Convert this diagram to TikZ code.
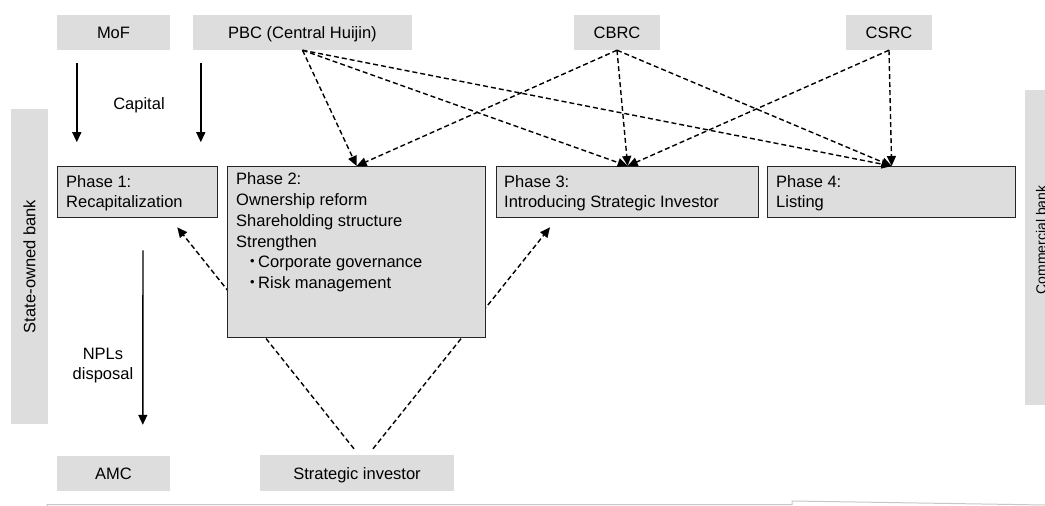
\documentclass[tikz,border=0pt]{standalone}
\usepackage{fontspec}
\setmainfont{Liberation Sans}
\newfontfamily\cjk{Noto Sans CJK JP}
\usetikzlibrary{arrows.meta,calc}
\pgfdeclarelayer{bg}
\pgfsetlayers{bg,main}
\definecolor{boxgray}{RGB}{221,221,221}
\begin{document}
\begin{tikzpicture}[x=1pt,y=-1pt,
  lbl/.style={font=\fontsize{16.5}{20.5}\selectfont, inner sep=0, text height=12pt, text depth=0pt},
  topbox/.style={fill=boxgray, draw=none, minimum height=35, inner sep=0, font=\fontsize{16.5}{20}\selectfont, text height=12pt, text depth=0pt},
  phase/.style={fill=boxgray, draw=black!85, line width=1.3pt, inner sep=0, anchor=north west},
  ptext/.style={font=\fontsize{16.5}{20.3}\selectfont, align=left, inner sep=0, anchor=north west},
  bar/.style={fill=boxgray, draw=none, inner sep=0, rotate=90, minimum width=315, minimum height=37},
  dasharrow/.style={dash pattern=on 5pt off 3pt, line width=1.4pt, -{Triangle[length=10pt,width=9pt]}},
  solidarrow/.style={line width=1.4pt, -{Triangle[length=10pt,width=9pt]}}
]
\clip (0,0) rectangle (1045,506);
\useasboundingbox (0,0) rectangle (1045,506);

% top boxes
\node[topbox, minimum width=113] (mof) at (113.5,32.5) {MoF};
\node[topbox, minimum width=219] (pbc) at (302.5,32.5) {PBC (Central Huijin)};
\node[topbox, minimum width=86] (cbrc) at (617,32.5) {CBRC};
\node[topbox, minimum width=86] (csrc) at (889,32.5) {CSRC};

% bottom boxes
\node[topbox, minimum width=113] (amc) at (113.5,473.5) {AMC};
\node[topbox, minimum width=194, minimum height=36] (si) at (357,473) {Strategic investor};

% side bars
\node[bar, font=\fontsize{16.5}{20}\selectfont] (sob) at (29.5,266.5) {State-owned bank};
\node[bar] (cb) at (1043.5,247.5) {};
\node[rotate=90, inner sep=0, font=\fontsize{14}{17}\selectfont, text height=10pt, text depth=0pt] (cbt) at (1041,240) {Commercial bank};

% phase boxes
\node[phase, minimum width=160, minimum height=51] (p1) at (57,166) {};
\node[phase, minimum width=258, minimum height=171] (p2) at (227,166) {};
\node[phase, minimum width=262, minimum height=51] (p3) at (496,166) {};
\node[phase, minimum width=248, minimum height=51] (p4) at (767,166) {};

\node[ptext] (p1t) at (66,173) {\rule{0pt}{14pt}Phase 1:\\Recapitalization};
\node[ptext, font=\fontsize{16.5}{20.8}\selectfont] (p2t) at (236,170.5) {\rule{0pt}{14pt}Phase 2:\\Ownership reform\\Shareholding structure\\Strengthen\\\hspace*{8pt}{\cjk ・}\hspace{-2.5pt}Corporate governance\\\hspace*{8pt}{\cjk ・}\hspace{-2.5pt}Risk management};
\node[ptext] (p3t) at (504,173) {\rule{0pt}{14pt}Phase 3:\\Introducing Strategic Investor};
\node[ptext] (p4t) at (776,173) {\rule{0pt}{14pt}Phase 4:\\Listing};

% labels
\node[lbl] (cap) at (139,103) {Capital};
\node[font=\fontsize{16.5}{20.5}\selectfont, inner sep=0, align=center, anchor=north] (npl) at (103,345) {\rule{0pt}{14pt}NPLs\\disposal};

% capital and NPL arrows
\coordinate (c1s) at ([xshift=20pt,yshift=-13pt]mof.south west);
\coordinate (c1e) at ([xshift=20pt,yshift=-92pt]mof.south west);
\coordinate (c2s) at ([xshift=8pt,yshift=-13pt]pbc.south west);
\coordinate (c2e) at ([xshift=8pt,yshift=-92pt]pbc.south west);
\draw[solidarrow] (c1s) -- (c1e);
\draw[solidarrow] (c2s) -- (c2e);
\coordinate (ns) at ([xshift=86pt,yshift=-32pt]p1.south west);
\coordinate (ne) at ([xshift=86pt,yshift=31pt]amc.north west);
\draw[solidarrow] (ns) -- (ne);

% regulator arrows
\draw[dasharrow] (pbc.south) -- (p2.north);
\draw[dasharrow] (pbc.south) -- (p3.north);
\draw[dasharrow] (pbc.south) -- (p4.north);
\draw[dasharrow] (cbrc.south) -- (p2.north);
\draw[dasharrow] (cbrc.south) -- (p3.north);
\draw[dasharrow] (cbrc.south) -- (p4.north);
\draw[dasharrow] (csrc.south) -- (p3.north);
\draw[dasharrow] (csrc.south) -- (p4.north);

% strategic investor arrows (behind phase 2)
\coordinate (s1) at ([xshift=-3pt,yshift=6pt]si.north);
\coordinate (s2) at ([xshift=16pt,yshift=6pt]si.north);
\coordinate (e1) at ([xshift=-41pt,yshift=-9pt]p1.south east);
\coordinate (e2) at ([xshift=54pt,yshift=-9pt]p3.south west);
\begin{pgfonlayer}{bg}
\draw[dasharrow] (s1) -- (e1);
\draw[dasharrow] (s2) -- (e2);
\end{pgfonlayer}

% bottom edge
\draw[black!22, line width=1pt] (47,508) -- (47,504.5) -- (792,504.5) -- (792,501) -- (1045,505);
\end{tikzpicture}
\end{document}
